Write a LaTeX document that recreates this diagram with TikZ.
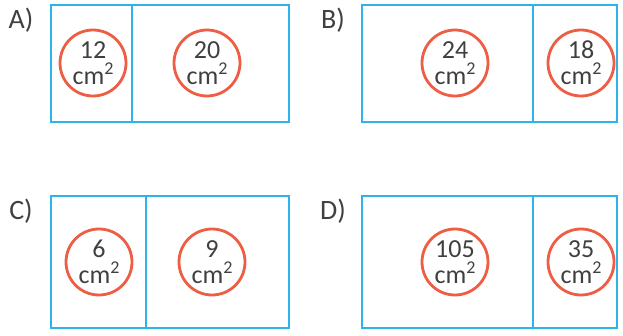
\documentclass[tikz,border=0pt]{standalone}
\usepackage{fontspec}
\setmainfont{Carlito}
\definecolor{boxblue}{HTML}{2BB3EA}
\definecolor{ringred}{HTML}{EE5E45}
\definecolor{ink}{HTML}{404040}
\newcommand{\sqcm}{cm\raisebox{0.38em}{\fontsize{18}{18}\selectfont 2}}
\tikzset{
  x=1pt, y=-1pt,
  panel/.style={draw=boxblue, line width=2.8pt},
  ring/.style={circle, draw=ringred, line width=2.8pt, minimum size=66pt, inner sep=0pt,
    text=ink, align=center, font=\fontsize{26}{26}\selectfont},
  tag/.style={text=ink, font=\fontsize{28}{30}\selectfont, inner sep=0pt}
}
\begin{document}
\begin{tikzpicture}
\useasboundingbox (0,0) rectangle (623,336);
% A
\node[tag] (la) at (21,20) {A)};
\draw[panel] (51,5) rectangle (289,122);
\draw[panel] (132,5) -- (132,122);
\node[ring] (a1) at (93,63) {12\\\sqcm};
\node[ring] (a2) at (207,63) {20\\\sqcm};
% B
\node[tag] (lb) at (333,20) {B)};
\draw[panel] (362,5) rectangle (617,122);
\draw[panel] (533,5) -- (533,122);
\node[ring] (b1) at (455,63) {24\\\sqcm};
\node[ring] (b2) at (581,63) {18\\\sqcm};
% C
\node[tag] (lc) at (21,211) {C)};
\draw[panel] (51,196) rectangle (289,328);
\draw[panel] (146,196) -- (146,328);
\node[ring] (c1) at (99,262) {6\\\sqcm};
\node[ring] (c2) at (212,262) {9\\\sqcm};
% D
\node[tag] (ld) at (333,211) {D)};
\draw[panel] (362,196) rectangle (617,328);
\draw[panel] (533,196) -- (533,328);
\node[ring] (d1) at (455,262) {105\\\sqcm};
\node[ring] (d2) at (581,262) {35\\\sqcm};
\end{tikzpicture}
\end{document}
